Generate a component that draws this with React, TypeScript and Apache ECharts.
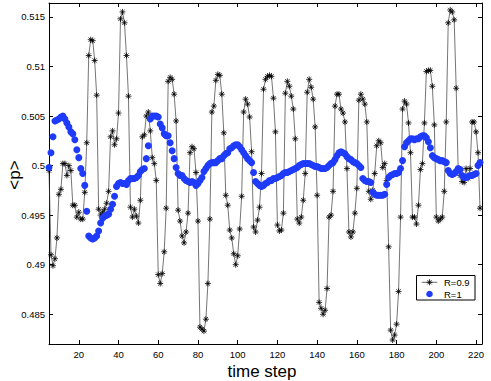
import React, { useEffect, useRef } from "react";
import * as echarts from "echarts";

// time steps start at 5 and advance by 1
const timeStart = 5;

// <p> for R=0.9 (black asterisks), t = 5 ... 222
const r09: number[] = [
  0.4995, 0.4910, 0.4899, 0.4906, 0.4927, 0.4971, 0.4976, 0.5002, 0.5002, 0.4990,
  0.5000, 0.4995, 0.4960, 0.4960, 0.4948, 0.4953, 0.4946, 0.4946, 0.4973, 0.5023,
  0.5111, 0.5127, 0.5126, 0.5106, 0.5071, 0.4956, 0.4950, 0.4953, 0.4956, 0.4962,
  0.4974, 0.5029, 0.5035, 0.5021, 0.5027, 0.5053, 0.5148, 0.5155, 0.5144, 0.5111,
  0.5070, 0.4958, 0.4948, 0.4956, 0.4949, 0.4942, 0.4965, 0.5029, 0.5031, 0.5050,
  0.5054, 0.5035, 0.5008, 0.5002, 0.4985, 0.4890, 0.4881, 0.4891, 0.4913, 0.4957,
  0.5085, 0.5089, 0.5087, 0.5072, 0.5045, 0.4955, 0.4944, 0.4929, 0.4922, 0.4933,
  0.4952, 0.5013, 0.5019, 0.5017, 0.4993, 0.4944, 0.4837, 0.4835, 0.4833, 0.4845,
  0.4881, 0.4946, 0.5054, 0.5060, 0.5086, 0.5092, 0.5091, 0.5072, 0.5033, 0.4970,
  0.4960, 0.4935, 0.4927, 0.4911, 0.4900, 0.4909, 0.4936, 0.4969, 0.5054, 0.5067,
  0.5062, 0.5049, 0.5014, 0.4938, 0.4933, 0.4945, 0.4958, 0.4992, 0.5077, 0.5087,
  0.5090, 0.5091, 0.5090, 0.5068, 0.5034, 0.4940, 0.4934, 0.4935, 0.4952, 0.5073,
  0.5085, 0.5080, 0.5070, 0.5057, 0.5027, 0.4946, 0.4942, 0.4948, 0.4965, 0.4992,
  0.5074, 0.5087, 0.5079, 0.5067, 0.5039, 0.4970, 0.4862, 0.4856, 0.4850, 0.4854,
  0.4876, 0.4948, 0.4950, 0.4974, 0.5060, 0.5072, 0.5072, 0.5057, 0.5053, 0.5044,
  0.4997, 0.4933, 0.4928, 0.4933, 0.4952, 0.4977, 0.5066, 0.5072, 0.5067, 0.5062,
  0.5044, 0.4974, 0.4966, 0.4975, 0.4992, 0.5020, 0.5025, 0.5023, 0.4998, 0.5002,
  0.4985, 0.4918, 0.4834, 0.4824, 0.4829, 0.4840, 0.4873, 0.4948, 0.5057, 0.5065,
  0.5062, 0.5043, 0.5013, 0.4948, 0.4948, 0.4941, 0.4960, 0.4996, 0.5002, 0.5043,
  0.5095, 0.5096, 0.5096, 0.5080, 0.5041, 0.4948, 0.4944, 0.4946, 0.4948, 0.4974,
  0.5044, 0.5144, 0.5157, 0.5155, 0.5147, 0.5078, 0.4996, 0.4990, 0.4984, 0.4983,
  0.4997, 0.4987, 0.4997, 0.5044, 0.5044, 0.5034, 0.5013, 0.4957,
];

// <p> for R=1 (blue dots), t = 5 ... 222
const r1: number[] = [
  0.4998, 0.5013, 0.5029, 0.5045, 0.5046, 0.5047, 0.5049, 0.5050, 0.5047, 0.5043,
  0.5039, 0.5034, 0.5032, 0.5026, 0.5016, 0.5008, 0.4997, 0.4992, 0.4980, 0.4954,
  0.4929, 0.4927, 0.4926, 0.4927, 0.4929, 0.4934, 0.4942, 0.4947, 0.4949, 0.4950,
  0.4951, 0.4956, 0.4961, 0.4969, 0.4979, 0.4982, 0.4983, 0.4982, 0.4982, 0.4981,
  0.4985, 0.4987, 0.4987, 0.4987, 0.4988, 0.4990, 0.4994, 0.4996, 0.4997, 0.5007,
  0.5020, 0.5047, 0.5050, 0.5050, 0.5050, 0.5049, 0.5042, 0.5038, 0.5032, 0.5030,
  0.5030, 0.5023, 0.5015, 0.5007, 0.4998, 0.4992, 0.4990, 0.4990, 0.4987, 0.4985,
  0.4984, 0.4983, 0.4984, 0.4983, 0.4980, 0.4982, 0.4985, 0.4988, 0.4994, 0.4997,
  0.5000, 0.5002, 0.5003, 0.5003, 0.5003, 0.5005, 0.5007, 0.5007, 0.5010, 0.5012,
  0.5013, 0.5017, 0.5018, 0.5020, 0.5021, 0.5021, 0.5019, 0.5016, 0.5013, 0.5010,
  0.5007, 0.5005, 0.5003, 0.4993, 0.4984, 0.4982, 0.4980, 0.4979, 0.4980, 0.4982,
  0.4983, 0.4985, 0.4985, 0.4987, 0.4987, 0.4988, 0.4989, 0.4990, 0.4992, 0.4993,
  0.4993, 0.4994, 0.4995, 0.4996, 0.4997, 0.4998, 0.5000, 0.5001, 0.5002, 0.5002,
  0.5002, 0.5002, 0.5001, 0.5000, 0.4999, 0.4999, 0.4998, 0.4997, 0.4997, 0.4997,
  0.4998, 0.5000, 0.5002, 0.5003, 0.5006, 0.5010, 0.5013, 0.5014, 0.5013, 0.5012,
  0.5009, 0.5007, 0.5006, 0.5004, 0.5003, 0.5002, 0.5000, 0.4998, 0.4987, 0.4985,
  0.4984, 0.4984, 0.4983, 0.4973, 0.4971, 0.4970, 0.4970, 0.4970, 0.4970, 0.4971,
  0.4981, 0.4988, 0.4990, 0.4991, 0.4992, 0.4992, 0.4993, 0.4997, 0.5005, 0.5019,
  0.5023, 0.5025, 0.5027, 0.5027, 0.5026, 0.5027, 0.5027, 0.5029, 0.5030, 0.5030,
  0.5028, 0.5024, 0.5018, 0.5010, 0.5008, 0.5007, 0.5006, 0.5005, 0.5005, 0.5004,
  0.5003, 0.4995, 0.4992, 0.4991, 0.4992, 0.4994, 0.4997, 0.4996, 0.4990, 0.4988,
  0.4988, 0.4989, 0.4990, 0.4990, 0.4991, 0.4992, 0.5000, 0.5003,
];

const xTicks = [20, 40, 60, 80, 100, 120, 140, 160, 180, 200, 220];
const yTicks = [0.485, 0.49, 0.495, 0.5, 0.505, 0.51, 0.515];
const xRange = [5, 223];
const yRange = [0.482, 0.5164];
const seriesNames = ["R=0.9", "R=1"];
const xTitle = "time step";
const yTitle = "<p>";

const FONT = "'Liberation Sans', Arial, Helvetica, sans-serif";
const STAR = "path://M5,0L5,10M0,5L10,5M1.46,1.46L8.54,8.54M1.46,8.54L8.54,1.46";
const BLUE = "#1f3bfa";

function asterisk(cx: number, cy: number, r: number) {
  const d = r * 0.7071;
  const segs = [
    [cx, cy - r, cx, cy + r],
    [cx - r, cy, cx + r, cy],
    [cx - d, cy - d, cx + d, cy + d],
    [cx - d, cy + d, cx + d, cy - d],
  ];
  return segs.map(([x1, y1, x2, y2]) => ({
    type: "line",
    shape: { x1, y1, x2, y2 },
    style: { stroke: "#000", lineWidth: 0.8 },
    z: 101,
  }));
}

export default function App() {
  const ref = useRef<HTMLDivElement>(null);

  useEffect(() => {
    if (!ref.current) return;
    const chart = echarts.init(ref.current, null, { renderer: "svg" });
    const toPairs = (vals: number[]) => vals.map((v, i) => [timeStart + i, v]);

    const axisLine = { show: true, onZero: false, lineStyle: { color: "#000", width: 1 } };
    const mkX = (pos: "bottom" | "top", labels: boolean) => ({
      type: "value",
      position: pos,
      min: xRange[0],
      max: xRange[1],
      axisLine,
      axisTick: { show: true, inside: true, length: 4, customValues: xTicks, lineStyle: { color: "#000", width: 1 } },
      axisLabel: {
        show: labels,
        customValues: xTicks,
        color: "#000",
        fontSize: 9.5,
        fontFamily: FONT,
        margin: 5,
      },
      splitLine: { show: false },
    });
    const mkY = (pos: "left" | "right", labels: boolean) => ({
      type: "value",
      position: pos,
      min: yRange[0],
      max: yRange[1],
      axisLine,
      axisTick: { show: true, inside: true, length: 4, customValues: yTicks, lineStyle: { color: "#000", width: 1 } },
      axisLabel: {
        show: labels,
        customValues: yTicks,
        color: "#000",
        fontSize: 9.5,
        fontFamily: FONT,
        margin: 4,
        formatter: (v: number) => String(Number(v.toFixed(4))),
      },
      splitLine: { show: false },
    });

    // legend box drawn as graphics
    const lx = 416.5, ly = 275.5, lw = 58.5, lh = 24.5;
    const row1 = 282.3, row2 = 294;
    const legendGraphics: any[] = [
      {
        type: "rect",
        shape: { x: lx, y: ly, width: lw, height: lh },
        style: { fill: "#fff", stroke: "#000", lineWidth: 1 },
        z: 100,
      },
      {
        type: "line",
        shape: { x1: 421.7, y1: row1, x2: 437.3, y2: row1 },
        style: { stroke: "#444", lineWidth: 0.8 },
        z: 101,
      },
      ...asterisk(429.5, row1, 3),
      {
        type: "text",
        x: 444,
        y: row1,
        style: { text: seriesNames[0], fontSize: 9.5, fontFamily: FONT, fill: "#000", align: "left", verticalAlign: "middle" },
        z: 101,
      },
      {
        type: "circle",
        shape: { cx: 429.5, cy: row2, r: 3.3 },
        style: { fill: BLUE },
        z: 101,
      },
      {
        type: "text",
        x: 444,
        y: row2,
        style: { text: seriesNames[1], fontSize: 9.5, fontFamily: FONT, fill: "#000", align: "left", verticalAlign: "middle" },
        z: 101,
      },
    ];

    chart.setOption({
      animation: false,
      backgroundColor: "#fff",
      grid: { left: 49, right: 9, top: 3, bottom: 37 },
      xAxis: [mkX("bottom", true), mkX("top", false)],
      yAxis: [mkY("left", true), mkY("right", false)],
      graphic: [
        {
          type: "text",
          x: 262,
          y: 371.5,
          style: {
            text: xTitle,
            fontSize: 17,
            fontFamily: FONT,
            fill: "#000",
            align: "center",
            verticalAlign: "middle",
          },
        },
        {
          type: "text",
          x: 14,
          y: 175,
          rotation: Math.PI / 2,
          style: {
            text: yTitle,
            fontSize: 17,
            fontFamily: FONT,
            fill: "#000",
            align: "center",
            verticalAlign: "middle",
          },
        },
        ...legendGraphics,
      ],
      series: [
        {
          name: seriesNames[0],
          type: "line",
          data: toPairs(r09),
          symbol: STAR,
          symbolSize: 6,
          showSymbol: true,
          lineStyle: { color: "#3a3a3a", width: 0.7 },
          itemStyle: { color: "#000", borderColor: "#000", borderWidth: 0.8 },
          emphasis: { disabled: true },
          z: 2,
        },
        {
          name: seriesNames[1],
          type: "scatter",
          data: toPairs(r1),
          symbol: "circle",
          symbolSize: 7,
          itemStyle: { color: BLUE, opacity: 1 },
          emphasis: { disabled: true },
          z: 3,
        },
      ],
    });

    return () => chart.dispose();
  }, []);

  return (
    <div
      ref={ref}
      style={{ position: "absolute", left: 0, top: 0, width: 491, height: 381 }}
    />
  );
}
